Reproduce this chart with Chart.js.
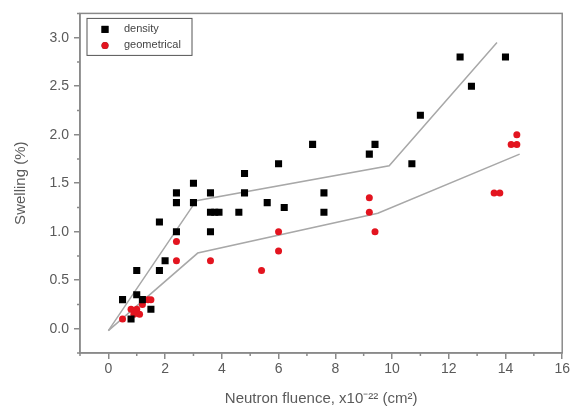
<!DOCTYPE html>
<html>
<head>
<meta charset="utf-8">
<script src="https://cdn.jsdelivr.net/npm/chart.js@4.4.1/dist/chart.umd.min.js"></script>
<style>
html, body { margin: 0; padding: 0; background: #fff; }
</style>
</head>
<body>
<canvas id="grafico" width="572" height="412"></canvas>
<script>
// datos
var densidadX = [0.5, 0.8, 1.0, 1.0, 1.2, 1.5, 1.8, 1.8, 2.0, 2.4, 2.4, 2.4, 3.0, 3.0, 3.6, 3.6, 3.75, 3.9, 3.6, 4.6, 4.8, 4.8, 5.6, 6.0, 6.2, 7.2, 7.6, 7.6, 9.2, 9.4, 10.7, 11.0, 12.4, 12.8, 14.0];
var densidadY = [0.3, 0.1, 0.35, 0.6, 0.3, 0.2, 0.6, 1.1, 0.7, 1.4, 1.3, 1.0, 1.5, 1.3, 1.4, 1.2, 1.2, 1.2, 1.0, 1.2, 1.6, 1.4, 1.3, 1.7, 1.25, 1.9, 1.4, 1.2, 1.8, 1.9, 1.7, 2.2, 2.8, 2.5, 2.8];

var geoX = [0.5, 0.8, 0.9, 1.0, 1.1, 1.2, 1.4, 1.5, 2.4, 2.4, 3.6, 5.4, 6.0, 6.0, 9.2, 9.2, 9.4, 13.6, 13.8, 14.2, 14.4, 14.4];
var geoY = [0.1, 0.2, 0.15, 0.2, 0.15, 0.25, 0.3, 0.3, 0.9, 0.7, 0.7, 0.6, 1.0, 0.8, 1.35, 1.2, 1.0, 1.4, 1.4, 1.9, 1.9, 2.0];

var ajusteDensX = [0, 3.1, 9.9, 13.7];
var ajusteDensY = [-0.02, 1.32, 1.68, 2.95];
var ajusteGeoX = [0, 3.15, 9.5, 14.5];
var ajusteGeoY = [-0.02, 0.78, 1.19, 1.8];

var ticksX = [0, 2, 4, 6, 8, 10, 12, 14, 16];
var ticksY = [0, 0.5, 1.0, 1.5, 2.0, 2.5, 3.0];
var menoresX = [-1, 1, 3, 5, 7, 9, 11, 13, 15];
var menoresY = [-0.25, 0.25, 0.75, 1.25, 1.75, 2.25, 2.75, 3.25];

function puntos(xs, ys) {
    var r = [];
    for (var i = 0; i < xs.length; i++) {
        r.push({ x: xs[i], y: ys[i] });
    }
    return r;
}

var colorEje = '#8a8a8a';
var colorTexto = '#5a5a5a';

var marco = {
    id: 'marco',
    afterDraw: function (chart) {
        var ctx = chart.ctx;
        var a = chart.chartArea;
        var sx = chart.scales.x;
        var sy = chart.scales.y;
        ctx.save();
        ctx.strokeStyle = colorEje;
        ctx.lineWidth = 1.5;
        ctx.strokeRect(a.left, a.top, a.right - a.left, a.bottom - a.top);

        // ticks menores
        ctx.beginPath();
        menoresX.forEach(function (v) {
            var px = sx.getPixelForValue(v);
            ctx.moveTo(px, a.bottom);
            ctx.lineTo(px, a.bottom + 3);
        });
        menoresY.forEach(function (v) {
            var py = sy.getPixelForValue(v);
            ctx.moveTo(a.left, py);
            ctx.lineTo(a.left - 3, py);
        });
        ctx.stroke();

        // leyenda con caja
        var bx = a.left + 7, by = a.top + 5;
        ctx.lineWidth = 1;
        ctx.strokeStyle = '#555';
        ctx.strokeRect(bx, by, 105, 37);
        ctx.font = '11px "Liberation Sans", Arial, sans-serif';
        ctx.textBaseline = 'middle';
        ctx.fillStyle = '#444';
        for (var i = 0; i < 2; i++) {
            var ds = chart.data.datasets[i];
            var yy = by + 11 + i * 16;
            Chart.helpers.drawPoint(ctx, {
                pointStyle: ds.pointStyle,
                radius: ds.pointRadius,
                borderWidth: 0
            }, bx + 18, yy);
            ctx.fillStyle = ds.backgroundColor;
            ctx.fill();
            ctx.fillStyle = '#444';
            ctx.fillText(ds.label, bx + 37, yy);
        }
        ctx.restore();
    }
};

var ctx = document.getElementById('grafico').getContext('2d');
var grafico = new Chart(ctx, {
    type: 'scatter',
    data: {
        datasets: [
            {
                label: 'density',
                data: puntos(densidadX, densidadY),
                pointStyle: 'rect',
                pointRadius: 5,
                backgroundColor: '#000',
                borderWidth: 0
            },
            {
                label: 'geometrical',
                data: puntos(geoX, geoY),
                pointStyle: 'circle',
                pointRadius: 3.5,
                backgroundColor: '#e3141f',
                borderWidth: 0
            },
            {
                label: 'ajuste1',
                data: puntos(ajusteDensX, ajusteDensY),
                showLine: true,
                pointRadius: 0,
                borderColor: '#a8a8a8',
                borderWidth: 1.5
            },
            {
                label: 'ajuste2',
                data: puntos(ajusteGeoX, ajusteGeoY),
                showLine: true,
                pointRadius: 0,
                borderColor: '#a8a8a8',
                borderWidth: 1.5
            }
        ]
    },
    options: {
        responsive: false,
        animation: false,
        layout: { padding: { left: 0, right: 9, top: 10, bottom: 0 } },
        plugins: {
            legend: { display: false },
            tooltip: { enabled: false }
        },
        scales: {
            x: {
                type: 'linear',
                min: -1,
                max: 16,
                afterBuildTicks: function (s) {
                    s.ticks = ticksX.map(function (v) { return { value: v }; });
                },
                afterFit: function (s) { s.height = 59; },
                ticks: {
                    color: colorTexto,
                    font: { size: 14, family: '"Liberation Sans", Arial, sans-serif' },
                    padding: 2,
                    maxRotation: 0
                },
                grid: { drawOnChartArea: false, tickLength: 6, color: colorEje, lineWidth: 1.5 },
                border: { color: colorEje, width: 1.5 },
                title: {
                    display: true,
                    text: 'Neutron fluence, x10\u207B\u00B2\u00B2 (cm\u00B2)',
                    color: colorTexto,
                    font: { size: 15, family: '"Liberation Sans", Arial, sans-serif' },
                    padding: { top: 6, bottom: 4 }
                }
            },
            y: {
                type: 'linear',
                min: -0.25,
                max: 3.25,
                afterBuildTicks: function (s) {
                    s.ticks = ticksY.map(function (v) { return { value: v }; });
                },
                afterFit: function (s) { s.width = 80; },
                ticks: {
                    color: colorTexto,
                    font: { size: 14, family: '"Liberation Sans", Arial, sans-serif' },
                    padding: 5,
                    callback: function (v) { return v.toFixed(1); }
                },
                grid: { drawOnChartArea: false, tickLength: 6, color: colorEje, lineWidth: 1.5 },
                border: { color: colorEje, width: 1.5 },
                title: {
                    display: true,
                    text: 'Swelling (%)',
                    color: colorTexto,
                    font: { size: 15, family: '"Liberation Sans", Arial, sans-serif' },
                    padding: { top: 12, bottom: 4 }
                }
            }
        }
    },
    plugins: [marco]
});
</script>
</body>
</html>
